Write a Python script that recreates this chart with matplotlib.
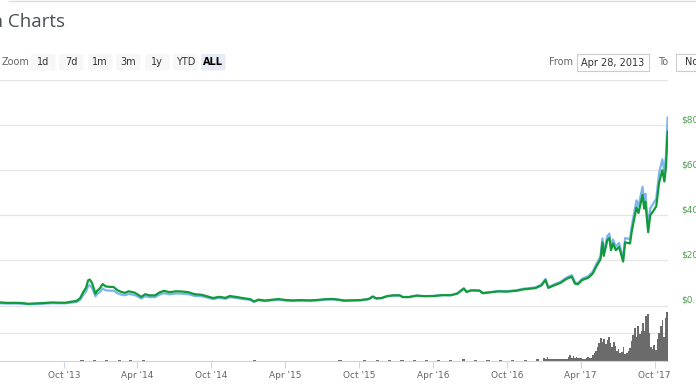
import matplotlib.pyplot as plt
import matplotlib.dates as mdates
from matplotlib.patches import FancyBboxPatch
import pandas as pd

# price (USD) and market cap (USD bn)
dates = ['2013-04-28', '2013-05-15', '2013-06-01', '2013-06-20', '2013-07-05', '2013-07-20',
         '2013-08-10', '2013-09-01', '2013-09-20', '2013-10-05', '2013-10-20', '2013-11-01',
         '2013-11-10', '2013-11-18', '2013-11-25', '2013-11-30', '2013-12-04', '2013-12-10',
         '2013-12-18', '2013-12-22', '2013-12-28', '2014-01-05', '2014-01-12', '2014-01-20',
         '2014-02-01', '2014-02-10', '2014-02-20', '2014-03-01', '2014-03-10', '2014-03-25',
         '2014-04-05', '2014-04-10', '2014-04-20', '2014-05-01', '2014-05-15', '2014-05-25',
         '2014-06-05', '2014-06-20', '2014-07-05', '2014-07-20', '2014-08-05', '2014-08-20',
         '2014-09-05', '2014-09-20', '2014-10-05', '2014-10-20', '2014-11-05', '2014-11-15',
         '2014-12-01', '2014-12-20', '2015-01-05', '2015-01-14', '2015-01-25', '2015-02-10',
         '2015-03-01', '2015-03-15', '2015-04-01', '2015-04-20', '2015-05-10', '2015-06-01',
         '2015-06-20', '2015-07-10', '2015-07-25', '2015-08-10', '2015-08-25', '2015-09-15',
         '2015-10-05', '2015-10-25', '2015-11-04', '2015-11-12', '2015-11-25', '2015-12-10',
         '2015-12-25', '2016-01-10', '2016-01-16', '2016-02-01', '2016-02-20', '2016-03-10',
         '2016-04-01', '2016-04-25', '2016-05-15', '2016-05-31', '2016-06-16', '2016-06-23',
         '2016-07-05', '2016-07-25', '2016-08-02', '2016-08-20', '2016-09-10', '2016-10-01',
         '2016-10-25', '2016-11-10', '2016-11-25', '2016-12-10', '2016-12-25', '2017-01-04',
         '2017-01-11', '2017-01-25', '2017-02-10', '2017-02-25', '2017-03-10', '2017-03-18',
         '2017-03-25', '2017-04-05', '2017-04-20', '2017-05-01', '2017-05-10', '2017-05-20',
         '2017-05-25', '2017-05-28', '2017-06-06', '2017-06-11', '2017-06-15', '2017-06-20',
         '2017-06-27', '2017-07-05', '2017-07-15', '2017-07-20', '2017-08-01', '2017-08-05',
         '2017-08-12', '2017-08-17', '2017-08-22', '2017-09-01', '2017-09-05', '2017-09-08',
         '2017-09-15', '2017-09-20', '2017-09-28', '2017-10-05', '2017-10-12', '2017-10-20',
         '2017-10-25', '2017-10-29', '2017-11-02']

price_usd = [135, 115, 120, 108, 75, 90, 105, 135, 125, 125, 170, 200,
             320, 600, 800, 1120, 1150, 980, 520, 650, 740, 950, 850, 830,
             820, 680, 600, 560, 630, 570, 450, 380, 500, 450, 450, 575,
             650, 590, 630, 620, 590, 500, 480, 410, 330, 385, 340, 420,
             380, 320, 280, 180, 260, 220, 260, 285, 245, 225, 240, 225,
             245, 280, 290, 265, 220, 230, 240, 290, 400, 320, 330, 420,
             450, 450, 380, 375, 440, 415, 420, 460, 455, 530, 750, 600,
             670, 655, 545, 580, 625, 615, 655, 715, 740, 770, 890, 1130,
             780, 890, 1000, 1180, 1280, 970, 940, 1130, 1230, 1420, 1740, 2050,
             2800, 2200, 2900, 3000, 2450, 2750, 2450, 2600, 1950, 2800, 2750, 3250,
             3900, 4350, 4100, 4900, 4300, 4600, 3250, 4000, 4200, 4400, 5450, 6000,
             5500, 6150, 7700]

market_cap_bn = [1.50, 1.29, 1.35, 1.23, 0.86, 1.03, 1.21, 1.57, 1.47, 1.48, 2.01, 2.38,
                 3.82, 7.20, 9.60, 13.50, 13.86, 11.86, 6.29, 7.87, 8.99, 11.59, 10.37, 10.17,
                 10.09, 8.40, 7.44, 6.97, 7.88, 7.15, 5.67, 4.79, 6.33, 5.72, 5.76, 7.39,
                 8.39, 7.64, 8.19, 8.09, 7.73, 6.58, 6.34, 5.43, 4.39, 5.14, 4.56, 5.65,
                 5.13, 4.35, 3.84, 2.48, 3.59, 3.05, 3.61, 3.98, 3.43, 3.16, 3.38, 3.20,
                 3.49, 4.00, 4.16, 3.83, 3.19, 3.36, 3.53, 4.28, 5.92, 4.75, 4.92, 6.30,
                 6.77, 6.80, 5.74, 5.68, 6.69, 6.35, 6.47, 7.11, 7.08, 8.27, 11.74, 9.42,
                 10.52, 10.32, 8.58, 9.16, 9.91, 9.78, 10.45, 11.44, 11.85, 12.36, 14.31, 18.19,
                 12.56, 14.35, 16.15, 19.09, 20.74, 15.72, 15.25, 18.36, 20.02, 23.15, 28.40, 33.50,
                 45.78, 35.97, 47.47, 49.14, 40.16, 45.10, 40.20, 42.72, 32.08, 46.09, 45.32, 53.59,
                 64.35, 71.82, 67.73, 81.05, 71.17, 76.18, 53.85, 66.32, 69.68, 73.04, 90.52, 99.78,
                 91.52, 102.4, 128.3]

# 24h volume (USD bn): monthly May 2013 - Dec 2016, then every 4 days in 2017
vol_monthly = [0.01, 0.01, 0.01, 0.01, 0.01, 0.02, 0.06, 0.07,
               0.04, 0.06, 0.05, 0.04, 0.02, 0.03, 0.02, 0.02, 0.02, 0.03, 0.03, 0.02,
               0.05, 0.03, 0.03, 0.02, 0.02, 0.02, 0.03, 0.04, 0.03, 0.04, 0.08, 0.06,
               0.06, 0.05, 0.05, 0.05, 0.07, 0.14, 0.10, 0.08, 0.07, 0.07, 0.09, 0.12]
vol_2017 = [0.21, 0.14, 0.29, 0.14, 0.11, 0.11, 0.14, 0.11,
            0.11, 0.14, 0.11, 0.14, 0.18, 0.14, 0.14,
            0.29, 0.43, 0.21, 0.36, 0.21, 0.29, 0.21, 0.21,
            0.21, 0.18, 0.14, 0.21, 0.29, 0.21, 0.21,
            0.43, 0.57, 0.71, 1.00, 1.29, 1.64, 1.36, 1.57,
            1.21, 1.50, 1.71, 1.29, 1.00, 1.36, 1.07,
            0.71, 0.86, 0.57, 0.64, 1.00, 0.50, 0.57, 0.71,
            0.93, 1.43, 1.86, 2.36, 1.71, 2.50, 1.93, 2.14,
            2.71, 2.14, 3.21, 3.36, 2.00, 1.00, 0.86, 1.14,
            0.79, 1.57, 2.00, 2.50, 2.93, 1.71, 3.07, 3.50]

price_ticks = [0, 2000, 4000, 6000, 8000]
price_labels = ['$0.00', '$2000', '$4000', '$6000', '$8000']
zoom_buttons = ['1d', '7d', '1m', '3m', '1y', 'YTD', 'ALL']

W, H = 696, 385


def box(x0, y0, x1, y1):
    return [x0 / W, 1 - y1 / H, (x1 - x0) / W, (y1 - y0) / H]


t = pd.to_datetime(dates)
vm_t = pd.date_range('2013-05-01', periods=len(vol_monthly), freq='MS') + pd.Timedelta(days=14)
v17_t = pd.date_range('2017-01-01', periods=len(vol_2017), freq='4D')

fig = plt.figure(figsize=(W / 100, H / 100), dpi=100)
fig.patch.set_facecolor('white')

ax2 = fig.add_axes(box(0, 80, 668, 305.5))
ax = ax2.twinx()
axv = fig.add_axes(box(0, 305.5, 668, 361), sharex=ax2)

ax2.set_ylim(0, 154)
ax.set_ylim(0, 10000)
ax2.set_yticks([0, 30.8, 61.6, 92.4, 123.2, 154])
ax2.grid(axis='y', color='#e6e6e6', lw=1)
ax2.plot(t, market_cap_bn, color='#7cb5ec', lw=1.6, solid_joinstyle='round')
ax.plot(t, price_usd, color='#119a3b', lw=1.6, solid_joinstyle='round')

for a in (ax, ax2):
    for s in a.spines.values():
        s.set_visible(False)
    a.tick_params(left=False, right=False, bottom=False, labelleft=False,
                  labelright=False, labelbottom=False)
ax.set_yticks([])

# right-hand price labels; the page crops them at the right edge
lab_tr = ax.get_yaxis_transform()
for v, s in zip(price_ticks, price_labels):
    ax.text(681 / 668, v + 230, s, transform=lab_tr, ha='left', va='center',
            fontsize=6.5, color='#4f9d4f', clip_on=False)

axv.bar(vm_t, vol_monthly, width=8, color='#6b6b6b', lw=0)
axv.bar(v17_t, vol_2017, width=4.0, color='#6b6b6b', lw=0)
axv.set_ylim(0, 4)
axv.set_yticks([2, 4])
axv.grid(axis='y', color='#e6e6e6', lw=1)
axv.set_axisbelow(True)
for k in ('top', 'left', 'right'):
    axv.spines[k].set_visible(False)
axv.spines['bottom'].set_color('#ccd6eb')
axv.tick_params(axis='y', left=False, labelleft=False)
axv.xaxis.set_major_locator(mdates.MonthLocator(bymonth=[4, 10]))
axv.xaxis.set_major_formatter(mdates.DateFormatter("%b '%y"))
axv.tick_params(axis='x', length=5, color='#ccd6eb', labelsize=6.5,
                labelcolor='#666666', pad=2)
axv.set_xlim(pd.Timestamp('2013-04-26'), pd.Timestamp('2017-11-03'))

# page header / range selector
ui = fig.add_axes([0, 0, 1, 1])
ui.set_xlim(0, W)
ui.set_ylim(H, 0)
ui.axis('off')
ui.plot([9, W], [1, 1], color='#dddddd', lw=1)
ui.text(65, 22, 'Bitcoin Charts', ha='right', va='center', fontsize=13.5,
        color='#4a4f55', family='Open Sans')
ui.text(2, 62, 'Zoom', ha='left', va='center', fontsize=7, color='#666666')
bx = [31, 59, 88, 116, 145, 173, 201]
for x0, lab in zip(bx, zoom_buttons):
    sel = lab == 'ALL'
    ui.add_patch(FancyBboxPatch((x0, 54), 24.5, 16.5, boxstyle='round,pad=0,rounding_size=2',
                                fc='#e6ebf5' if sel else '#f7f7f7', ec='none'))
    ui.text(x0 + 12.25, 62.3, lab, ha='center', va='center', fontsize=7,
            color='#000000' if sel else '#333333', fontweight='bold' if sel else 'normal')
ui.text(549, 62, 'From', ha='left', va='center', fontsize=7, color='#666666')
ui.add_patch(FancyBboxPatch((577, 54), 72, 17, boxstyle='square,pad=0', fc='white', ec='#cccccc', lw=0.8))
ui.text(613, 62.5, 'Apr 28, 2013', ha='center', va='center', fontsize=7, color='#333333')
ui.text(658, 62, 'To', ha='left', va='center', fontsize=7, color='#666666')
ui.add_patch(FancyBboxPatch((676, 54), 72, 17, boxstyle='square,pad=0', fc='white', ec='#cccccc', lw=0.8))
ui.text(685, 62.5, 'Nov 3, 2017', ha='left', va='center', fontsize=7, color='#333333')

fig.savefig('out.png', dpi=100)
